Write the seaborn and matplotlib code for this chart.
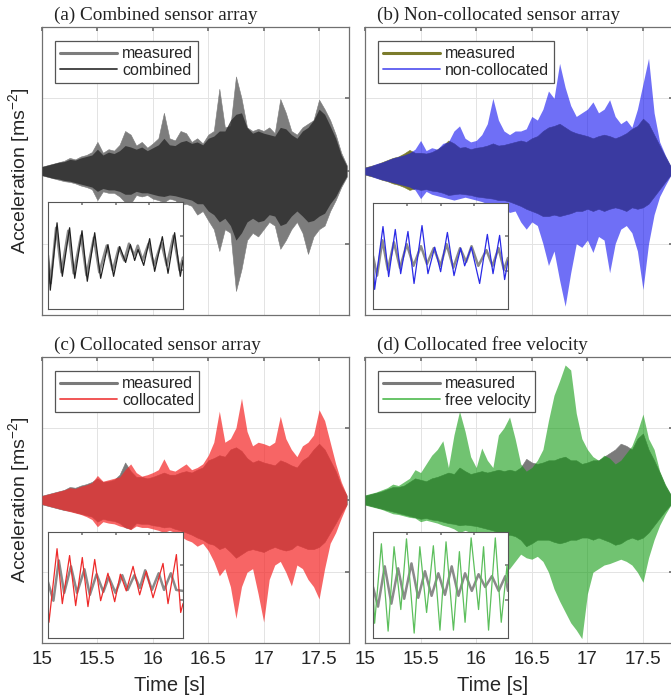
import numpy as np
import matplotlib
matplotlib.use("Agg")
import matplotlib.pyplot as plt
from matplotlib.lines import Line2D
import seaborn as sns
import pandas as pd

# ---------------- data ----------------
time_s = [15.00, 15.05, 15.10, 15.15, 15.20, 15.25, 15.30, 15.35, 15.40, 15.45,
          15.50, 15.55, 15.60, 15.65, 15.70, 15.75, 15.80, 15.85, 15.90, 15.95,
          16.00, 16.05, 16.10, 16.15, 16.20, 16.25, 16.30, 16.35, 16.40, 16.45,
          16.50, 16.55, 16.60, 16.65, 16.70, 16.75, 16.80, 16.85, 16.90, 16.95,
          17.00, 17.05, 17.10, 17.15, 17.20, 17.25, 17.30, 17.35, 17.40, 17.45,
          17.50, 17.55, 17.60, 17.65, 17.70, 17.75]

# (a) combined sensor array
a_meas_up = [0.06, 0.08, 0.10, 0.12, 0.14, 0.18, 0.16, 0.20, 0.22, 0.26,
             0.40, 0.25, 0.30, 0.28, 0.36, 0.55, 0.50, 0.35, 0.40, 0.32,
             0.38, 0.45, 0.80, 0.45, 0.42, 0.55, 0.52, 0.40, 0.45, 0.38,
             0.50, 0.55, 1.13, 0.60, 0.62, 1.30, 1.00, 0.60, 0.55, 0.58,
             0.55, 0.60, 0.52, 0.99, 0.80, 0.55, 0.50, 0.60, 0.65, 0.70,
             0.98, 0.85, 0.70, 0.50, 0.25, 0.08]
a_meas_lo = [-0.06, -0.08, -0.10, -0.12, -0.14, -0.15, -0.17, -0.20, -0.22, -0.25,
             -0.40, -0.28, -0.30, -0.30, -0.35, -0.43, -0.45, -0.33, -0.35, -0.33,
             -0.38, -0.40, -0.43, -0.38, -0.40, -0.47, -0.45, -0.48, -0.60, -0.55,
             -0.68, -0.80, -1.10, -0.80, -0.85, -1.65, -1.35, -0.95, -0.85, -0.90,
             -0.80, -0.70, -0.75, -1.07, -0.95, -0.80, -0.70, -0.85, -1.14, -0.90,
             -0.80, -0.75, -0.55, -0.40, -0.22, -0.08]
a_est_up = [0.06, 0.08, 0.10, 0.12, 0.13, 0.16, 0.15, 0.18, 0.20, 0.22,
            0.30, 0.22, 0.26, 0.24, 0.28, 0.35, 0.33, 0.30, 0.33, 0.28,
            0.32, 0.36, 0.45, 0.36, 0.35, 0.40, 0.42, 0.38, 0.40, 0.36,
            0.45, 0.48, 0.55, 0.55, 0.70, 0.78, 0.80, 0.60, 0.52, 0.55,
            0.52, 0.50, 0.48, 0.60, 0.58, 0.50, 0.45, 0.55, 0.60, 0.70,
            0.85, 0.78, 0.62, 0.45, 0.22, 0.07]
a_est_lo = [-0.06, -0.08, -0.10, -0.11, -0.13, -0.14, -0.16, -0.18, -0.20, -0.22,
            -0.28, -0.24, -0.26, -0.26, -0.28, -0.32, -0.32, -0.28, -0.30, -0.30,
            -0.32, -0.34, -0.35, -0.33, -0.34, -0.36, -0.38, -0.40, -0.45, -0.45,
            -0.55, -0.60, -0.70, -0.65, -0.75, -0.95, -0.85, -0.70, -0.65, -0.70,
            -0.68, -0.60, -0.62, -0.75, -0.72, -0.62, -0.55, -0.62, -0.70, -0.68,
            -0.62, -0.58, -0.45, -0.35, -0.20, -0.07]

# (b) non-collocated sensor array
b_meas_up = [0.05, 0.07, 0.09, 0.12, 0.15, 0.18, 0.20, 0.24, 0.29, 0.25,
             0.25, 0.24, 0.26, 0.30, 0.35, 0.42, 0.38, 0.32, 0.33, 0.30,
             0.32, 0.33, 0.35, 0.38, 0.35, 0.36, 0.38, 0.40, 0.42, 0.40,
             0.45, 0.48, 0.55, 0.60, 0.62, 0.65, 0.60, 0.55, 0.52, 0.50,
             0.48, 0.45, 0.48, 0.50, 0.48, 0.45, 0.48, 0.52, 0.58, 0.62,
             0.72, 0.65, 0.50, 0.35, 0.20, 0.06]
b_meas_lo = [-0.05, -0.07, -0.09, -0.12, -0.14, -0.17, -0.19, -0.22, -0.26, -0.24,
             -0.26, -0.25, -0.27, -0.28, -0.30, -0.33, -0.32, -0.31, -0.32, -0.33,
             -0.35, -0.36, -0.37, -0.38, -0.40, -0.40, -0.42, -0.45, -0.48, -0.52,
             -0.55, -0.58, -0.62, -0.62, -0.60, -0.62, -0.60, -0.58, -0.55, -0.55,
             -0.52, -0.55, -0.52, -0.55, -0.52, -0.50, -0.52, -0.55, -0.50, -0.52,
             -0.50, -0.45, -0.35, -0.25, -0.15, -0.05]
b_est_up = [0.05, 0.07, 0.10, 0.12, 0.15, 0.18, 0.20, 0.22, 0.25, 0.30,
            0.42, 0.28, 0.32, 0.30, 0.38, 0.40, 0.55, 0.62, 0.45, 0.40,
            0.42, 0.50, 0.65, 1.00, 0.70, 0.55, 0.50, 0.55, 0.55, 0.58,
            0.75, 0.70, 0.85, 1.10, 1.00, 1.48, 1.15, 0.90, 0.75, 0.80,
            0.85, 0.95, 0.80, 0.85, 0.98, 0.75, 0.65, 0.70, 0.60, 0.85,
            1.20, 1.55, 0.80, 0.40, 0.22, 0.07]
b_est_lo = [-0.05, -0.07, -0.10, -0.12, -0.14, -0.16, -0.18, -0.20, -0.22, -0.26,
            -0.38, -0.28, -0.32, -0.34, -0.36, -0.38, -0.40, -0.38, -0.36, -0.38,
            -0.40, -0.42, -0.45, -0.50, -0.48, -0.52, -0.57, -0.55, -0.70, -0.80,
            -0.70, -0.75, -1.00, -1.30, -1.10, -1.50, -1.86, -1.40, -1.00, -1.05,
            -0.95, -1.12, -0.90, -0.95, -1.40, -1.00, -0.80, -0.75, -0.85, -1.10,
            -1.63, -1.00, -0.60, -0.35, -0.20, -0.06]

# (c) collocated sensor array
c_meas_up = [0.06, 0.08, 0.10, 0.12, 0.14, 0.18, 0.17, 0.20, 0.22, 0.25,
             0.30, 0.25, 0.26, 0.28, 0.35, 0.52, 0.40, 0.32, 0.32, 0.30,
             0.32, 0.35, 0.38, 0.35, 0.35, 0.38, 0.40, 0.38, 0.42, 0.45,
             0.55, 0.58, 0.62, 0.60, 0.70, 0.73, 0.68, 0.58, 0.52, 0.55,
             0.52, 0.50, 0.48, 0.55, 0.52, 0.48, 0.45, 0.55, 0.60, 0.70,
             0.78, 0.70, 0.55, 0.40, 0.20, 0.06]
c_meas_lo = [-0.06, -0.08, -0.10, -0.12, -0.14, -0.15, -0.17, -0.19, -0.21, -0.23,
             -0.30, -0.26, -0.28, -0.29, -0.32, -0.38, -0.40, -0.32, -0.33, -0.33,
             -0.35, -0.36, -0.38, -0.37, -0.40, -0.42, -0.45, -0.48, -0.52, -0.55,
             -0.60, -0.62, -0.68, -0.65, -0.72, -0.80, -0.75, -0.70, -0.68, -0.70,
             -0.72, -0.68, -0.65, -0.68, -0.70, -0.68, -0.62, -0.65, -0.68, -0.68,
             -0.65, -0.58, -0.45, -0.32, -0.18, -0.06]
c_est_up = [0.06, 0.08, 0.10, 0.12, 0.14, 0.17, 0.16, 0.19, 0.21, 0.24,
            0.34, 0.26, 0.28, 0.30, 0.32, 0.42, 0.50, 0.38, 0.33, 0.35,
            0.38, 0.42, 0.57, 0.42, 0.40, 0.45, 0.50, 0.42, 0.45, 0.50,
            0.62, 0.80, 1.23, 0.80, 0.85, 1.00, 1.41, 0.95, 0.75, 0.80,
            0.78, 0.75, 0.80, 1.16, 0.85, 0.70, 0.60, 0.75, 0.80, 0.90,
            1.25, 1.10, 0.80, 0.50, 0.25, 0.07]
c_est_lo = [-0.06, -0.08, -0.10, -0.12, -0.14, -0.16, -0.18, -0.20, -0.23, -0.27,
            -0.37, -0.30, -0.32, -0.33, -0.36, -0.38, -0.41, -0.36, -0.38, -0.38,
            -0.40, -0.42, -0.45, -0.42, -0.45, -0.50, -0.55, -0.58, -0.64, -0.60,
            -0.70, -0.85, -1.05, -0.95, -1.20, -1.64, -1.20, -1.00, -0.95, -1.30,
            -1.69, -1.10, -0.90, -0.85, -1.00, -1.19, -0.90, -0.95, -1.10, -1.20,
            -1.37, -0.95, -0.60, -0.45, -0.25, -0.07]

# (d) collocated free velocity
d_meas_up = [0.06, 0.08, 0.10, 0.12, 0.15, 0.18, 0.18, 0.20, 0.25, 0.30,
             0.28, 0.26, 0.30, 0.32, 0.35, 0.38, 0.36, 0.45, 0.40, 0.36,
             0.38, 0.40, 0.38, 0.40, 0.42, 0.40, 0.42, 0.40, 0.45, 0.57,
             0.52, 0.50, 0.52, 0.55, 0.55, 0.58, 0.60, 0.55, 0.55, 0.50,
             0.52, 0.55, 0.55, 0.60, 0.65, 0.70, 0.78, 0.75, 0.70, 0.85,
             0.92, 0.70, 0.55, 0.38, 0.20, 0.07]
d_meas_lo = [-0.06, -0.08, -0.10, -0.12, -0.14, -0.16, -0.18, -0.20, -0.22, -0.24,
             -0.26, -0.25, -0.27, -0.28, -0.30, -0.32, -0.33, -0.35, -0.34, -0.35,
             -0.36, -0.38, -0.40, -0.42, -0.45, -0.50, -0.48, -0.50, -0.55, -0.64,
             -0.60, -0.55, -0.55, -0.55, -0.58, -0.60, -0.58, -0.55, -0.55, -0.52,
             -0.52, -0.55, -0.52, -0.55, -0.58, -0.62, -0.60, -0.55, -0.52, -0.55,
             -0.52, -0.45, -0.35, -0.25, -0.15, -0.06]
d_est_up = [0.07, 0.09, 0.11, 0.14, 0.17, 0.22, 0.20, 0.25, 0.30, 0.42,
            0.38, 0.50, 0.62, 0.70, 0.82, 0.45, 0.90, 1.23, 0.95, 0.60,
            0.45, 0.72, 0.55, 0.45, 0.90, 1.00, 1.15, 0.85, 0.50, 0.40,
            0.45, 0.55, 0.70, 1.10, 1.45, 1.65, 1.87, 1.80, 1.20, 0.85,
            0.70, 0.60, 0.55, 0.62, 0.58, 0.50, 0.55, 0.65, 0.75, 0.95,
            1.19, 0.85, 0.70, 0.40, 0.22, 0.08]
d_est_lo = [-0.07, -0.09, -0.11, -0.13, -0.16, -0.19, -0.20, -0.22, -0.24, -0.25,
            -0.30, -0.28, -0.30, -0.32, -0.35, -0.37, -0.40, -0.45, -0.42, -0.45,
            -0.50, -0.48, -0.55, -0.68, -0.80, -1.00, -0.95, -0.85, -0.75, -0.80,
            -0.82, -0.78, -0.85, -1.00, -1.23, -1.40, -1.55, -1.70, -1.80, -1.92,
            -1.30, -1.00, -0.95, -0.90, -0.88, -0.85, -0.82, -0.85, -0.90, -1.00,
            -1.14, -0.80, -0.55, -0.35, -0.20, -0.07]

# insets (zoomed waveforms, normalised position / amplitude)
ia_est_x = [0, .017, .067, .106, .160, .198, .252, .291, .346, .390, .444, .486, .531,
            .575, .610, .642, .667, .709, .753, .790, .847, .889, .938, .980, 1.0]
ia_est_y = [.54, .15, .83, .29, .78, .27, .75, .24, .73, .27, .61, .29, .59,
            .43, .61, .45, .56, .40, .67, .34, .69, .32, .73, .29, .45]
ia_meas_x = [0, .02, .06, .10, .15, .19, .245, .285, .34, .38, .435, .48, .525,
             .565, .60, .64, .665, .70, .745, .785, .84, .88, .93, .975, 1.0]
ia_meas_y = [.50, .22, .78, .33, .75, .32, .70, .30, .68, .33, .60, .35, .58,
             .45, .62, .50, .60, .45, .62, .40, .63, .40, .70, .35, .48]

ib_est_x = [0, .012, .074, .116, .165, .205, .259, .304, .363, .407, .457, .501,
            .551, .600, .649, .679, .728, .790, .847, .889, .938, .975, 1.0]
ib_est_y = [.51, .16, .80, .29, .77, .32, .75, .22, .81, .32, .59, .34,
            .74, .30, .58, .40, .59, .22, .72, .32, .71, .26, .45]
ib_meas_x = [0, .03, .07, .11, .155, .20, .25, .30, .355, .40, .45, .50,
             .545, .595, .645, .69, .73, .78, .84, .885, .93, .97, 1.0]
ib_meas_y = [.50, .30, .66, .36, .64, .38, .62, .40, .60, .42, .58, .40,
             .62, .38, .58, .44, .60, .40, .56, .40, .58, .36, .48]

ic_est_x = [0, .007, .067, .106, .160, .205, .254, .296, .346, .390, .444, .494,
            .536, .580, .630, .679, .728, .778, .852, .889, .951, .983, 1.0]
ic_est_y = [.30, .12, .87, .31, .80, .29, .78, .28, .76, .34, .62, .33,
            .61, .44, .69, .40, .64, .37, .72, .31, .81, .22, .31]
ic_meas_x = [0, .04, .08, .12, .17, .215, .27, .31, .36, .41, .45, .50,
             .55, .59, .64, .68, .72, .77, .82, .86, .91, .95, 1.0]
ic_meas_y = [.53, .34, .75, .42, .69, .42, .66, .40, .61, .43, .58, .42,
             .60, .45, .60, .47, .65, .45, .62, .45, .62, .45, .44]

id_est_x = [0, .012, .062, .112, .156, .206, .248, .305, .347, .397, .447, .496,
            .541, .596, .640, .682, .727, .782, .819, .856, .906, .950, .993, 1.0]
id_est_y = [.47, .11, .92, .03, .89, .25, .97, .01, .89, .22, .90, .04,
            .94, .04, .84, .12, .98, .25, .89, .04, .98, .12, .70, .53]
id_meas_x = [0, .037, .087, .136, .186, .231, .285, .335, .385, .434, .484,
             .533, .583, .633, .682, .732, .782, .831, .881, .931, .980, 1.0]
id_meas_y = [.48, .28, .69, .31, .67, .36, .72, .37, .64, .39, .62,
             .40, .69, .39, .62, .44, .61, .48, .59, .44, .59, .44]

x_ticks = [15, 15.5, 16, 16.5, 17, 17.5]
x_tick_labels = ["15", "15.5", "16", "16.5", "17", "17.5"]

panels = [
    dict(title="(a) Combined sensor array", labels=("measured", "combined"),
         meas=(a_meas_lo, a_meas_up), est=(a_est_lo, a_est_up),
         ins=(ia_meas_x, ia_meas_y, ia_est_x, ia_est_y),
         mcol="#7d7d7d", ecol="#2e2e2e", ealpha=0.85, legcol=("#7d7d7d", "#3a3a3a"),
         inmcol="#8a8a8a", inecol="#202020"),
    dict(title="(b) Non-collocated sensor array", labels=("measured", "non-collocated"),
         meas=(b_meas_lo, b_meas_up), est=(b_est_lo, b_est_up),
         ins=(ib_meas_x, ib_meas_y, ib_est_x, ib_est_y),
         mcol="#7b7b2c", ecol="#1010f0", ealpha=0.6, legcol=("#7b7b2c", "#5a5af0"),
         inmcol="#8a8a8a", inecol="#2a2ae6"),
    dict(title="(c) Collocated sensor array", labels=("measured", "collocated"),
         meas=(c_meas_lo, c_meas_up), est=(c_est_lo, c_est_up),
         ins=(ic_meas_x, ic_meas_y, ic_est_x, ic_est_y),
         mcol="#7a7a7a", ecol="#f42a2a", ealpha=0.72, legcol=("#7a7a7a", "#f04848"),
         inmcol="#8a8a8a", inecol="#ee2a2a"),
    dict(title="(d) Collocated free velocity", labels=("measured", "free velocity"),
         meas=(d_meas_lo, d_meas_up), est=(d_est_lo, d_est_up),
         ins=(id_meas_x, id_meas_y, id_est_x, id_est_y),
         mcol="#7a7a7a", ecol="#0a990a", ealpha=0.58, legcol=("#7a7a7a", "#5cbf5c"),
         inmcol="#8a8a8a", inecol="#5cbf5c"),
]

# ---------------- figure ----------------
sns.set_theme(style="white")
plt.rcParams["font.family"] = ["Liberation Sans", "DejaVu Sans"]
plt.rcParams["mathtext.fontset"] = "custom"
plt.rcParams["mathtext.rm"] = "Liberation Sans"
plt.rcParams["mathtext.it"] = "Liberation Sans"

W, H = 671, 698
fig = plt.figure(figsize=(W / 100, H / 100), dpi=100)

def fx(px):
    return px / W

def fy(py_top, py_bot):
    return (H - py_bot) / H, (py_bot - py_top) / H

main_rects = [(42, 27, 349, 315), (365, 27, 673, 315),
              (42, 357, 349, 643), (365, 357, 673, 643)]
inset_rects = [(48, 202, 183, 309), (373, 203, 508, 309),
               (48, 532, 183, 638), (373, 532, 508, 638)]

t = np.array(time_s)
for i, (p, r, ir) in enumerate(zip(panels, main_rects, inset_rects)):
    b, h = fy(r[1], r[3])
    ax = fig.add_axes([fx(r[0]), b, fx(r[2] - r[0]), h])
    ax.set_xlim(15, 17.77)
    ax.set_ylim(-1.98, 1.98)
    ax.set_xticks(x_ticks)
    ax.set_yticks([-1, 0, 1])
    ax.grid(True, color="#e3e3e3", lw=0.7)
    ax.set_axisbelow(True)
    ax.tick_params(direction="in", length=3, color="#707070", labelleft=False,
                   labelsize=13.5, pad=6, top=True, right=True)
    for s in ax.spines.values():
        s.set_color("#707070")
        s.set_linewidth(0.9)
    ax.fill_between(t, p["meas"][0], p["meas"][1], color=p["mcol"], lw=0.4,
                    edgecolor=p["mcol"], zorder=2)
    ax.fill_between(t, p["est"][0], p["est"][1], color=p["ecol"], alpha=p["ealpha"],
                    lw=0.0, zorder=3)
    if i >= 2:
        ax.set_xticklabels(x_tick_labels)
        ax.set_xlabel("Time [s]", fontsize=14.5)
        ax.xaxis.set_label_coords(0.415, -0.115)
    else:
        ax.set_xticklabels([])
    if i % 2 == 0:
        ax.set_ylabel("Acceleration [ms$^{-2}$]", fontsize=14)
        ax.yaxis.set_label_coords(-0.032, 0.5)
    ax.text(0.04, 1.012, p["title"], transform=ax.transAxes, ha="left", va="bottom",
            fontsize=13.8, family=["Liberation Serif", "DejaVu Serif"], color="#222222")
    handles = [Line2D([], [], color=p["legcol"][0], lw=2.2),
               Line2D([], [], color=p["legcol"][1], lw=1.3)]
    leg = ax.legend(handles, p["labels"], loc="upper left", bbox_to_anchor=(0.042, 0.95),
                    borderaxespad=0, fontsize=11.5, handlelength=3.6, handletextpad=0.3,
                    labelspacing=0.1, borderpad=0.3, fancybox=False, framealpha=1,
                    edgecolor="#555555")
    leg.get_frame().set_linewidth(0.9)
    leg.set_zorder(10)

    # inset
    ib, ih = fy(ir[1], ir[3])
    ins = fig.add_axes([fx(ir[0]), ib, fx(ir[2] - ir[0]), ih])
    ins.set_facecolor("white")
    mx, my, ex, ey = p["ins"]
    dm = pd.DataFrame({"x": mx, "y": my})
    de = pd.DataFrame({"x": ex, "y": ey})
    sns.lineplot(data=dm, x="x", y="y", ax=ins, color=p["inmcol"], lw=1.8, sort=False)
    sns.lineplot(data=de, x="x", y="y", ax=ins, color=p["inecol"], lw=0.9, sort=False)
    ins.set_xlim(0, 1)
    ins.set_ylim(-0.04, 1.04)
    ins.set_xlabel("")
    ins.set_ylabel("")
    ins.set_xticks([0.25, 0.5, 0.75])
    ins.set_yticks([0.35, 0.7])
    ins.tick_params(direction="in", length=2, color="#808080", labelleft=False,
                    labelbottom=False, top=True, right=True)
    for s in ins.spines.values():
        s.set_color("#555555")
        s.set_linewidth(0.8)

fig.savefig("out.png", dpi=100)
